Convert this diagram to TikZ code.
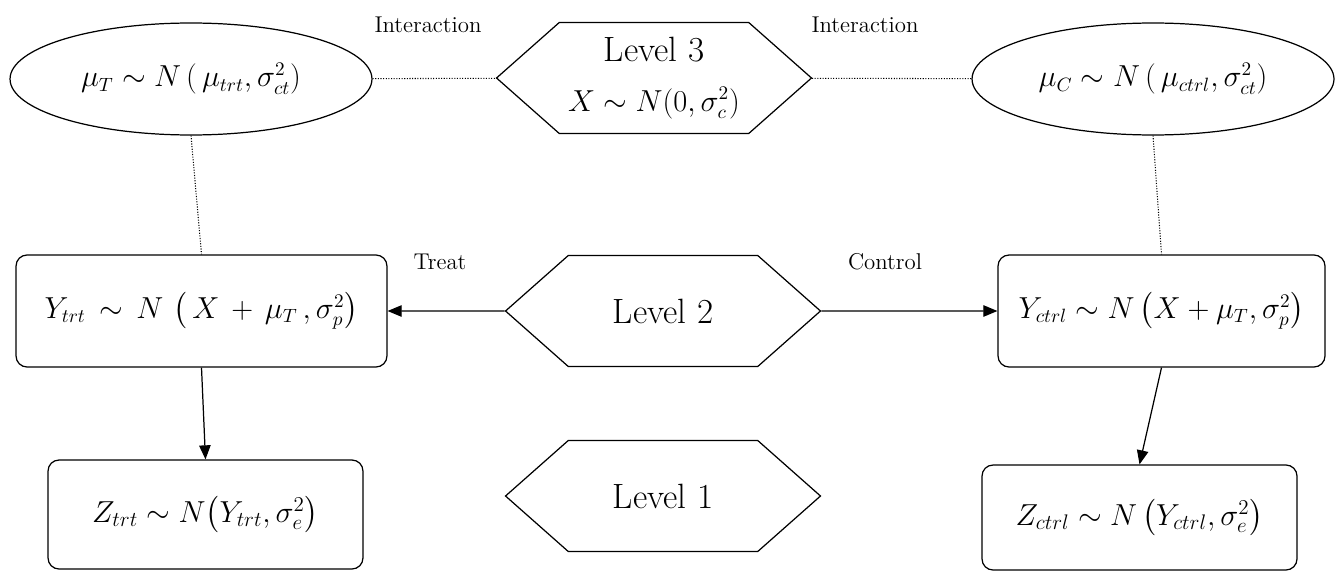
\documentclass[tikz,border=0pt]{standalone}
\usepackage{amsmath}
\usetikzlibrary{arrows.meta,shapes.symbols,shapes.geometric}
\tikzset{
    levelbox/.style={draw, line width=0.7pt, shape=signal, signal to=east and west,
        signal pointer angle=83, minimum width=6.3cm, minimum height=2.22cm,
        inner sep=0pt, align=center, font=\fontsize{20}{24}\selectfont},
    distbox/.style={draw, line width=0.7pt, rounded corners=0.22cm, inner sep=0pt,
        font=\fontsize{16}{20}\selectfont},
    distell/.style={draw, line width=0.7pt, ellipse, inner sep=0pt,
        minimum width=7.24cm, minimum height=2.24cm, font=\fontsize{16}{20}\selectfont},
    link/.style={line width=0.6pt, dash pattern=on 0.6pt off 0.9pt},
    flow/.style={line width=0.7pt, -{Triangle[length=8pt,width=6.5pt]}},
    tag/.style={font=\fontsize{13}{15}\selectfont}
}

\begin{document}
\begin{tikzpicture}[x=0.02cm, y=-0.02cm]
    \useasboundingbox (0,0) rectangle (1337,571);
    \node[distell] (muT) at (191,79) {$\mu_T \sim N\left(\,\mu_{trt},\sigma_{ct}^2\right)$};
    \node[distell] (muC) at (1153,79) {$\mu_C \sim N\left(\,\mu_{ctrl},\sigma_{ct}^2\right)$};
    \node[levelbox] (lev3) at (654,78) {Level 3\\[4pt] {\fontsize{16}{20}\selectfont $X\sim N\!\left(0,\sigma_c^2\right)$}};
    \node[levelbox] (lev2) at (663,311) {Level 2};
    \node[levelbox] (lev1) at (663,496) {Level 1};
    \node[distbox, minimum width=7.42cm, minimum height=2.24cm] (Ytrt) at (201.5,311)
        {$Y_{trt}\,\sim\,N\,\left(\,X\,+\,\mu_T\,,\sigma_{p}^{2}\right)$};
    \node[distbox, minimum width=6.54cm, minimum height=2.24cm] (Yctrl) at (1161.5,311)
        {$Y_{ctrl}\sim N\left(X+\mu_T,\sigma_p^2\right)$};
    \node[distbox, minimum width=6.3cm, minimum height=2.18cm, font=\fontsize{17}{20}\selectfont] (Ztrt) at (205.5,514.5)
        {$Z_{trt}\sim N\!\left(Y_{trt},\sigma_e^2\right)$\hspace{0.7cm}};
    \node[distbox, minimum width=6.3cm, minimum height=2.1cm, font=\fontsize{17}{20}\selectfont] (Zctrl) at (1139.5,517.5)
        {$Z_{ctrl}\sim N\left(Y_{ctrl},\sigma_e^2\right)$};
    \node[tag] (int1) at (428,25) {Interaction};
    \node[tag] (int2) at (865,25) {Interaction};
    \node[tag] (treat) at (440,262) {Treat};
    \node[tag] (ctrl) at (885,262) {Control};
    \draw[link] (muT) -- (lev3);
    \draw[link] (lev3) -- (muC);
    \draw[link] (muT.south) -- (Ytrt.north);
    \draw[link] (muC.south) -- (Yctrl.north);
    \draw[flow] (lev2) -- (Ytrt);
    \draw[flow] (lev2) -- (Yctrl);
    \draw[flow] (Ytrt.south) -- (Ztrt.north);
    \draw[flow] (Yctrl.south) -- (Zctrl.north);
\end{tikzpicture}
\end{document}
